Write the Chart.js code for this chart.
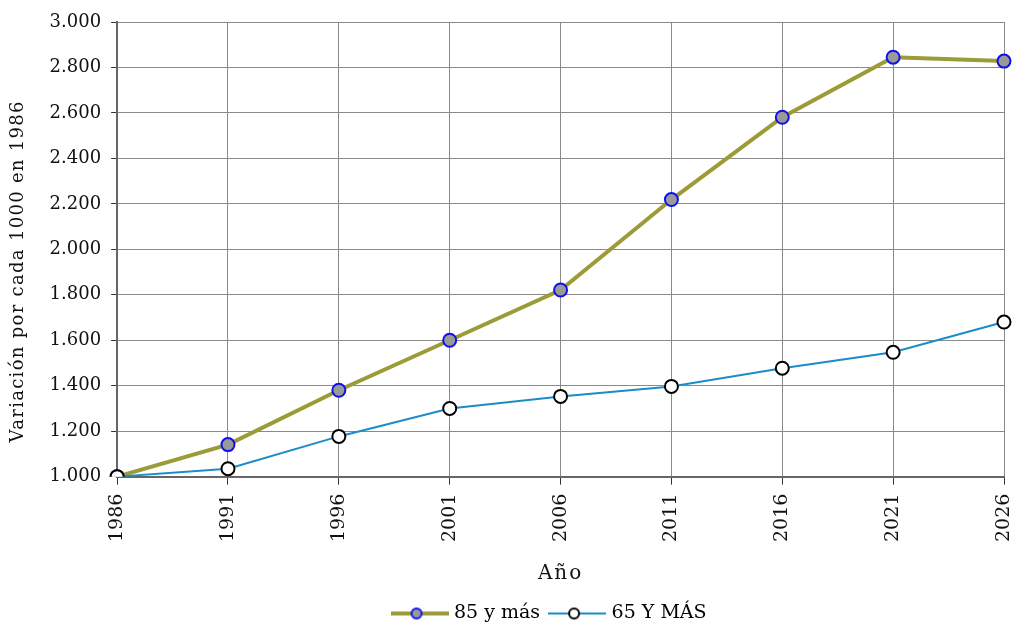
<!DOCTYPE html>
<html>
<head>
<meta charset="utf-8">
<script src="https://cdn.jsdelivr.net/npm/chart.js@4"></script>
<style>
  html, body { margin: 0; padding: 0; background: #fff; }
  #wrap { width: 1014px; height: 625px; }
</style>
</head>
<body>
<div id="wrap"><canvas id="chart"></canvas></div>
<script>
// Data
const years = ['1986', '1991', '1996', '2001', '2006', '2011', '2016', '2021', '2026'];
const mas85 = [1000, 1141, 1380, 1600, 1821, 2219, 2581, 2845, 2828];
const mas65 = [1000, 1035, 1177, 1300, 1353, 1397, 1477, 1547, 1680];

const FONT = 'DejaVu Serif';
const titleSpacing = { x: 2, y: 1.3 };
const titleShift = { x: 0, y: 22 };

// legend symbol: line with a marker in the middle
function legendIcon(lineColor, lineWidth, fill, stroke) {
    const c = document.createElement('canvas');
    c.width = 58; c.height = 16;
    const g = c.getContext('2d');
    g.strokeStyle = lineColor;
    g.lineWidth = lineWidth;
    g.beginPath(); g.moveTo(0, 8); g.lineTo(58, 8); g.stroke();
    g.beginPath(); g.arc(26, 8, 5, 0, Math.PI * 2);
    g.fillStyle = fill; g.fill();
    g.lineWidth = 2; g.strokeStyle = stroke; g.stroke();
    return c;
}

// axis titles are letter-spaced in the original
const spacedTitles = {
    id: 'spacedTitles',
    beforeDraw(chart) {
        Object.values(chart.scales).forEach(s => {
            if (s._spaced) return;
            const orig = s.drawTitle.bind(s);
            s.drawTitle = function () {
                const c = this.ctx;
                c.save();
                c.letterSpacing = (titleSpacing[this.id] || 0) + 'px';
                c.translate(0, titleShift[this.id] || 0);
                orig();
                c.restore();
            };
            s._spaced = true;
        });
    },
    // legend sits a little left of the plot centre
    afterLayout(chart) {
        chart.legend.left -= 10;
        chart.legend.right -= 10;
    }
};

const ctx = document.getElementById('chart').getContext('2d');
new Chart(ctx, {
    type: 'line',
    data: {
        labels: years,
        datasets: [{
            label: '85 y más',
            data: mas85,
            order: 1,
            borderColor: '#9b9b38',
            borderWidth: 4,
            pointRadius: 6.5,
            pointBackgroundColor: '#999999',
            pointBorderColor: '#1010ee',
            pointBorderWidth: 2,
            tension: 0,
            legendIcon: legendIcon('#9b9b38', 4, '#999999', '#1010ee')
        }, {
            label: '65 Y MÁS',
            data: mas65,
            order: 0,
            borderColor: '#1a8cc8',
            borderWidth: 2,
            pointRadius: 6.5,
            pointBackgroundColor: '#ffffff',
            pointBorderColor: '#000000',
            pointBorderWidth: 2,
            tension: 0,
            legendIcon: legendIcon('#1a8cc8', 2, '#ffffff', '#000000')
        }]
    },
    plugins: [spacedTitles],
    options: {
        responsive: true,
        maintainAspectRatio: false,
        animation: false,
        layout: { padding: { top: 22, right: 10, left: 8, bottom: -8 } },
        plugins: {
            tooltip: { enabled: false },
            legend: {
                position: 'bottom',
                fullSize: false,
                labels: {
                    color: '#111',
                    font: { family: FONT, size: 19 },
                    usePointStyle: true,
                    pointStyleWidth: 50,
                    boxHeight: 16,
                    padding: 12,
                    generateLabels: chart => chart.data.datasets.map((ds, i) => ({
                        text: ds.label,
                        pointStyle: ds.legendIcon,
                        fillStyle: 'transparent',
                        strokeStyle: 'transparent',
                        lineWidth: 0,
                        datasetIndex: i
                    }))
                }
            }
        },
        scales: {
            x: {
                offset: false,
                afterFit: s => { s.paddingRight = 0; },
                grid: { color: '#8a8a8a', lineWidth: 1, tickLength: 8, tickColor: '#333' },
                border: { color: '#666', width: 2 },
                ticks: {
                    color: '#111',
                    font: { family: FONT, size: 19 },
                    minRotation: 90,
                    maxRotation: 90,
                    padding: 9
                },
                title: {
                    display: true,
                    text: 'Año',
                    color: '#111',
                    font: { family: FONT, size: 20 },
                    padding: { top: 11, bottom: 6 }
                }
            },
            y: {
                min: 1000,
                max: 3000,
                grid: { color: '#8a8a8a', lineWidth: 1, tickLength: 6, tickColor: '#333' },
                border: { color: '#666', width: 2 },
                ticks: {
                    stepSize: 200,
                    color: '#111',
                    font: { family: FONT, size: 18 },
                    padding: 10,
                    callback: v => String(v).replace(/^(\d)(\d{3})$/, '$1.$2')
                },
                title: {
                    display: true,
                    text: 'Variación por cada 1000 en 1986',
                    color: '#111',
                    font: { family: FONT, size: 18 },
                    padding: { top: 0, bottom: 10 }
                }
            }
        }
    }
});
</script>
</body>
</html>
